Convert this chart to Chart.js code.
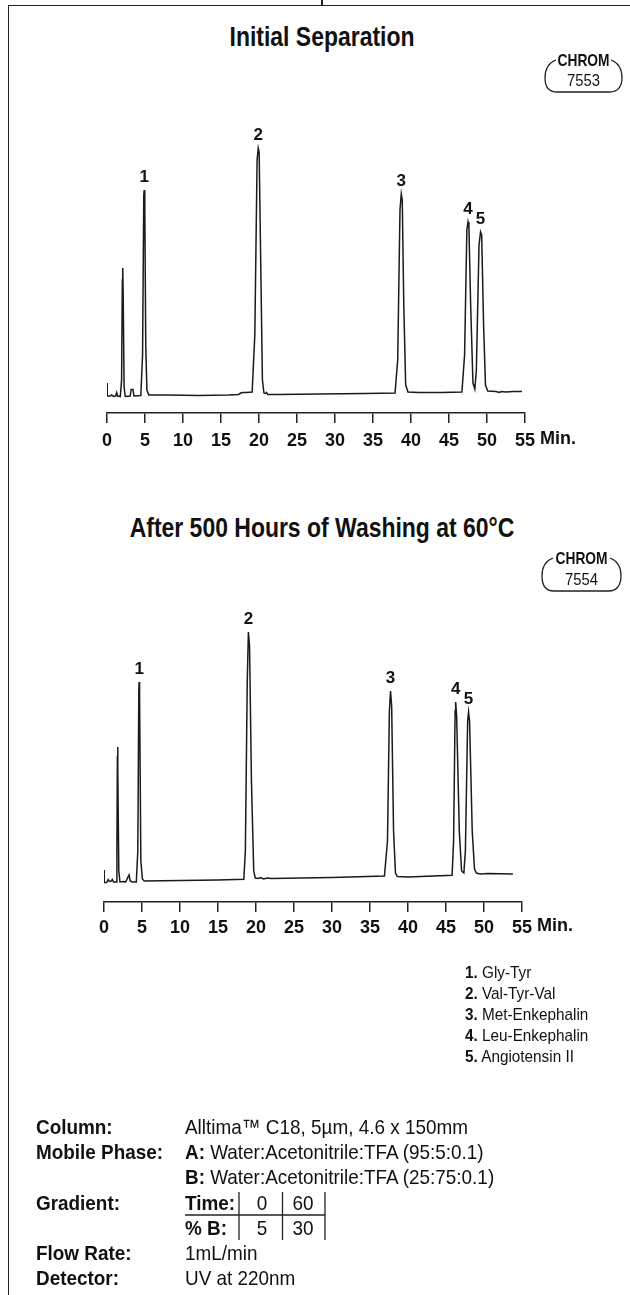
<!DOCTYPE html>
<html>
<head>
<meta charset="utf-8">
<script src="https://cdn.jsdelivr.net/npm/chart.js@4.4.1/dist/chart.umd.min.js"></script>
<style>
  html, body { margin: 0; padding: 0; background: #fff; }
  body { width: 630px; height: 1295px; position: relative; overflow: hidden; color: #111;
         font-family: "Liberation Sans", Arial, sans-serif; }
  .frame { position: absolute; left: 8px; top: 5px; width: 640px; height: 1300px;
           border-left: 1.5px solid #222; border-top: 1.5px solid #222; }
  .abs { position: absolute; white-space: nowrap; }
  .title { font-weight: bold; font-size: 28px; line-height: 32px; transform: translate(-50%, -50%) scaleX(0.82); }
  canvas { position: absolute; left: 0; }
  svg.over { position: absolute; left: 0; top: 0; }
  .legend { font-size: 17px; line-height: 22px; transform-origin: 0 50%; transform: scaleX(0.9); }
  .param { font-size: 21px; line-height: 25px; transform-origin: 0 50%; transform: scaleX(0.9); }
  .param.c { transform: translateX(-50%) scaleX(0.9); transform-origin: 50% 50%; }
</style>
</head>
<body>
<div class="frame"></div>
<div class="abs" style="left:321px;top:0;width:1.5px;height:6px;background:#222"></div>

<div class="abs title" style="left:322px;top:37px">Initial Separation</div>
<div class="abs title" style="left:322px;top:528px">After 500 Hours of Washing at 60°C</div>

<canvas id="chartTop" width="630" height="480" style="top:0"></canvas>
<canvas id="chartBottom" width="630" height="500" style="top:480px"></canvas>

<svg class="over" width="630" height="1295" xmlns="http://www.w3.org/2000/svg">
  <g fill="none" stroke="#222" stroke-width="1.3">
    <path d="M556 60 C548 63 545 70 545 78 C545 87 549 92 557 92 L610 92 C617 92 622 87 622 78 C622 70 619 63 611 60"/>
    <path d="M553 558 C545 561 542 568 542 576 C542 586 546 591 554 591 L609 591 C616 591 621 586 621 576 C621 568 618 561 610 558"/>
    <line x1="185" y1="1215" x2="325" y2="1215"/>
    <line x1="239" y1="1192" x2="239" y2="1240"/>
    <line x1="282.5" y1="1192" x2="282.5" y2="1240"/>
    <line x1="325" y1="1192" x2="325" y2="1240"/>
  </g>
  <g font-family="Liberation Sans, Arial, sans-serif" fill="#111" text-anchor="middle" dominant-baseline="central">
    <text x="583.5" y="60" font-size="17" font-weight="bold" textLength="52" lengthAdjust="spacingAndGlyphs">CHROM</text>
    <text x="583.5" y="80" font-size="17" textLength="33" lengthAdjust="spacingAndGlyphs">7553</text>
    <text x="581.5" y="558" font-size="17" font-weight="bold" textLength="52" lengthAdjust="spacingAndGlyphs">CHROM</text>
    <text x="581.5" y="579" font-size="17" textLength="33" lengthAdjust="spacingAndGlyphs">7554</text>
  </g>
</svg>

<div id="legend"></div>

<div class="abs param" style="left:36px;top:1114px"><b>Column:</b></div>
<div class="abs param" style="left:185px;top:1114px">Alltima™ C18, 5µm, 4.6 x 150mm</div>
<div class="abs param" style="left:36px;top:1139px"><b>Mobile Phase:</b></div>
<div class="abs param" style="left:185px;top:1139px"><b>A:</b> Water:Acetonitrile:TFA (95:5:0.1)</div>
<div class="abs param" style="left:185px;top:1164px"><b>B:</b> Water:Acetonitrile:TFA (25:75:0.1)</div>
<div class="abs param" style="left:36px;top:1190px"><b>Gradient:</b></div>
<div class="abs param" style="left:185px;top:1190px"><b>Time:</b></div>
<div class="abs param c" style="left:262px;top:1190px">0</div>
<div class="abs param c" style="left:303px;top:1190px">60</div>
<div class="abs param" style="left:185px;top:1215px"><b>% B:</b></div>
<div class="abs param c" style="left:262px;top:1215px">5</div>
<div class="abs param c" style="left:303px;top:1215px">30</div>
<div class="abs param" style="left:36px;top:1240px"><b>Flow Rate:</b></div>
<div class="abs param" style="left:185px;top:1240px">1mL/min</div>
<div class="abs param" style="left:36px;top:1265px"><b>Detector:</b></div>
<div class="abs param" style="left:185px;top:1265px">UV at 220nm</div>

<script>
const FONT = '"Liberation Sans", Arial, sans-serif';

// ── time axis (minutes) ──
const timeTicks = [0, 5, 10, 15, 20, 25, 30, 35, 40, 45, 50, 55];

// ── initial separation trace ──
const topTime = [0, 0.03, 0.45, 0.6, 0.9, 1.15, 1.27, 1.4, 1.75, 1.92, 2.02, 2.07, 2.13, 2.25, 2.4,
  3.05, 3.18, 3.42, 3.55, 4.45, 4.68, 4.84, 4.9, 4.97, 5.1, 5.25, 5.5, 8, 12, 16, 17.3, 17.6, 17.9, 18.3,
  19.1, 19.45, 19.75, 19.9, 20.02, 20.25, 20.45, 20.65, 20.85, 21.0, 21.15, 22.5, 28, 34, 37.9, 38.25,
  38.55, 38.72, 38.85, 39.05, 39.3, 39.6, 41, 44, 46.7, 47.05, 47.35, 47.5, 47.62, 47.85, 48.15, 48.4,
  48.6, 48.95, 49.15, 49.3, 49.55, 49.8, 50.1, 51.2, 51.6, 51.9, 52.5, 53.5, 54.6];
const topSignal = [12, -1, -1, 0, -1.5, -1, 2.5, -1, -1.5, 15, 115, 127, 100, 8, -1.5,
  -1, 5.5, 5.5, -1, -0.5, 40, 200, 205, 190, 50, 5, 0, 0, -0.5, 0, 0.5, 2, 2.5, 2.5,
  3, 60, 235, 247, 243, 120, 15, 2, 1.5, 2.5, 0.5, 0.5, 1, 1.5, 2, 35,
  185, 201, 195, 90, 10, 3, 2.5, 2.5, 3, 40, 165, 173, 168, 90, 12, 6,
  25, 150, 163, 160, 70, 10, 4, 3.5, 2.5, 3.5, 3, 3.5, 3.5];
const topPeakTimes   = [4.9, 19.9, 38.72, 47.5, 49.15];
const topPeakHeights = [205, 247, 201, 173, 163];

// ── after 500 h washing trace ──
const bottomTime = [0, 0.03, 0.35, 0.55, 0.7, 0.95, 1.1, 1.25, 1.62, 1.7, 1.76, 1.79, 1.84, 1.95, 2.1,
  2.6, 2.85, 3.15, 3.3, 3.45, 3.7, 4.25, 4.45, 4.58, 4.62, 4.68, 4.85, 5.05, 5.3, 10, 15, 18.4, 18.6,
  18.85, 19.0, 19.15, 19.4, 19.7, 19.9, 20.3, 20.6, 21.0, 21.5, 22, 30, 36.9, 37.3, 37.55, 37.7, 37.85,
  38.1, 38.35, 38.6, 40, 45.8, 46.0, 46.2, 46.27, 46.4, 46.75, 47.05, 47.35, 47.55, 47.85, 47.97, 48.1,
  48.45, 48.75, 49.0, 49.5, 50.5, 53.8];
const bottomSignal = [11, -1.5, -1.5, 1.5, -0.5, 0, 1.5, -1, -1, 30, 125, 134, 110, 10, -1,
  -0.5, -1, 4, 6, 0, -1, -1, 30, 190, 199, 185, 20, 2, 0, 0.5, 1, 1.7, 30,
  200, 249, 235, 100, 10, 3, 2.5, 3.5, 2, 3, 2.5, 3.5, 5, 40, 170, 190, 175,
  50, 8, 4.5, 4, 5.7, 40, 170, 179, 165, 50, 10, 8, 30, 160, 169, 160,
  50, 12, 8, 7, 7.5, 7];
const bottomPeakTimes   = [4.62, 19.0, 37.7, 46.27, 47.97];
const bottomPeakHeights = [199, 249, 190, 179, 169];

const peakNames = ['1', '2', '3', '4', '5'];
const compounds = ['Gly-Tyr', 'Val-Tyr-Val', 'Met-Enkephalin', 'Leu-Enkephalin', 'Angiotensin II'];

// legend of compounds
const legendTops = [962, 983, 1004, 1025, 1046];
document.getElementById('legend').innerHTML = compounds.map((c, i) =>
  `<div class="abs legend" style="left:465px;top:${legendTops[i]}px"><b>${i + 1}.</b> ${c}</div>`).join('');

Chart.defaults.font.family = FONT;
Chart.defaults.color = '#111';

const peakLabels = {
  id: 'peakLabels',
  afterDatasetsDraw(chart, args, opts) {
    const { ctx, scales: { x, y } } = chart;
    ctx.save();
    ctx.fillStyle = '#111';
    ctx.font = 'bold 17px ' + FONT;
    ctx.textAlign = 'center';
    ctx.textBaseline = 'middle';
    opts.times.forEach((t, i) => {
      ctx.fillText(peakNames[i], x.getPixelForValue(t), y.getPixelForValue(opts.heights[i]) - 13);
    });
    // unit after last tick
    ctx.font = 'bold 18px ' + FONT;
    ctx.textAlign = 'left';
    ctx.textBaseline = 'top';
    ctx.fillText('Min.', x.getPixelForValue(55) + 15, x.top + 10 + opts.pad);
    ctx.restore();
  }
};

function makeChart(id, times, signal, peaks, heights, cfg) {
  const pts = times.map((t, i) => ({ x: t, y: signal[i] }));
  return new Chart(document.getElementById(id), {
    type: 'line',
    data: { datasets: [{ data: pts, borderColor: '#1a1a1a', borderWidth: 1.5, pointRadius: 0, tension: 0, fill: false }] },
    options: {
      responsive: false, animation: false,
      layout: { padding: { left: cfg.left, right: cfg.right, top: cfg.top, bottom: 0 } },
      plugins: { legend: { display: false }, tooltip: { enabled: false },
                 peakLabels: { times: peaks, heights, pad: cfg.pad } },
      scales: {
        x: {
          type: 'linear', min: 0, max: 55,
          afterBuildTicks: s => { s.ticks = timeTicks.map(v => ({ value: v })); },
          afterFit: s => { s.height = cfg.axisH; },
          grid: { drawOnChartArea: false, drawTicks: true, tickLength: 10, color: '#222', lineWidth: 1.5 },
          border: { display: true, color: '#222', width: 1.5 },
          ticks: { padding: cfg.pad, maxRotation: 0, autoSkip: false, font: { size: 18, weight: 'bold' }, color: '#111' }
        },
        y: { display: false, min: cfg.ymin, max: cfg.ymax }
      }
    },
    plugins: [peakLabels]
  });
}

makeChart('chartTop', topTime, topSignal, topPeakTimes, topPeakHeights,
  { left: 107, right: 105, top: 100, axisH: 67, pad: 7, ymin: -18, ymax: 295 });
makeChart('chartBottom', bottomTime, bottomSignal, bottomPeakTimes, bottomPeakHeights,
  { left: 104, right: 108, top: 120, axisH: 78, pad: 5, ymin: -21, ymax: 281 });
</script>
</body>
</html>
